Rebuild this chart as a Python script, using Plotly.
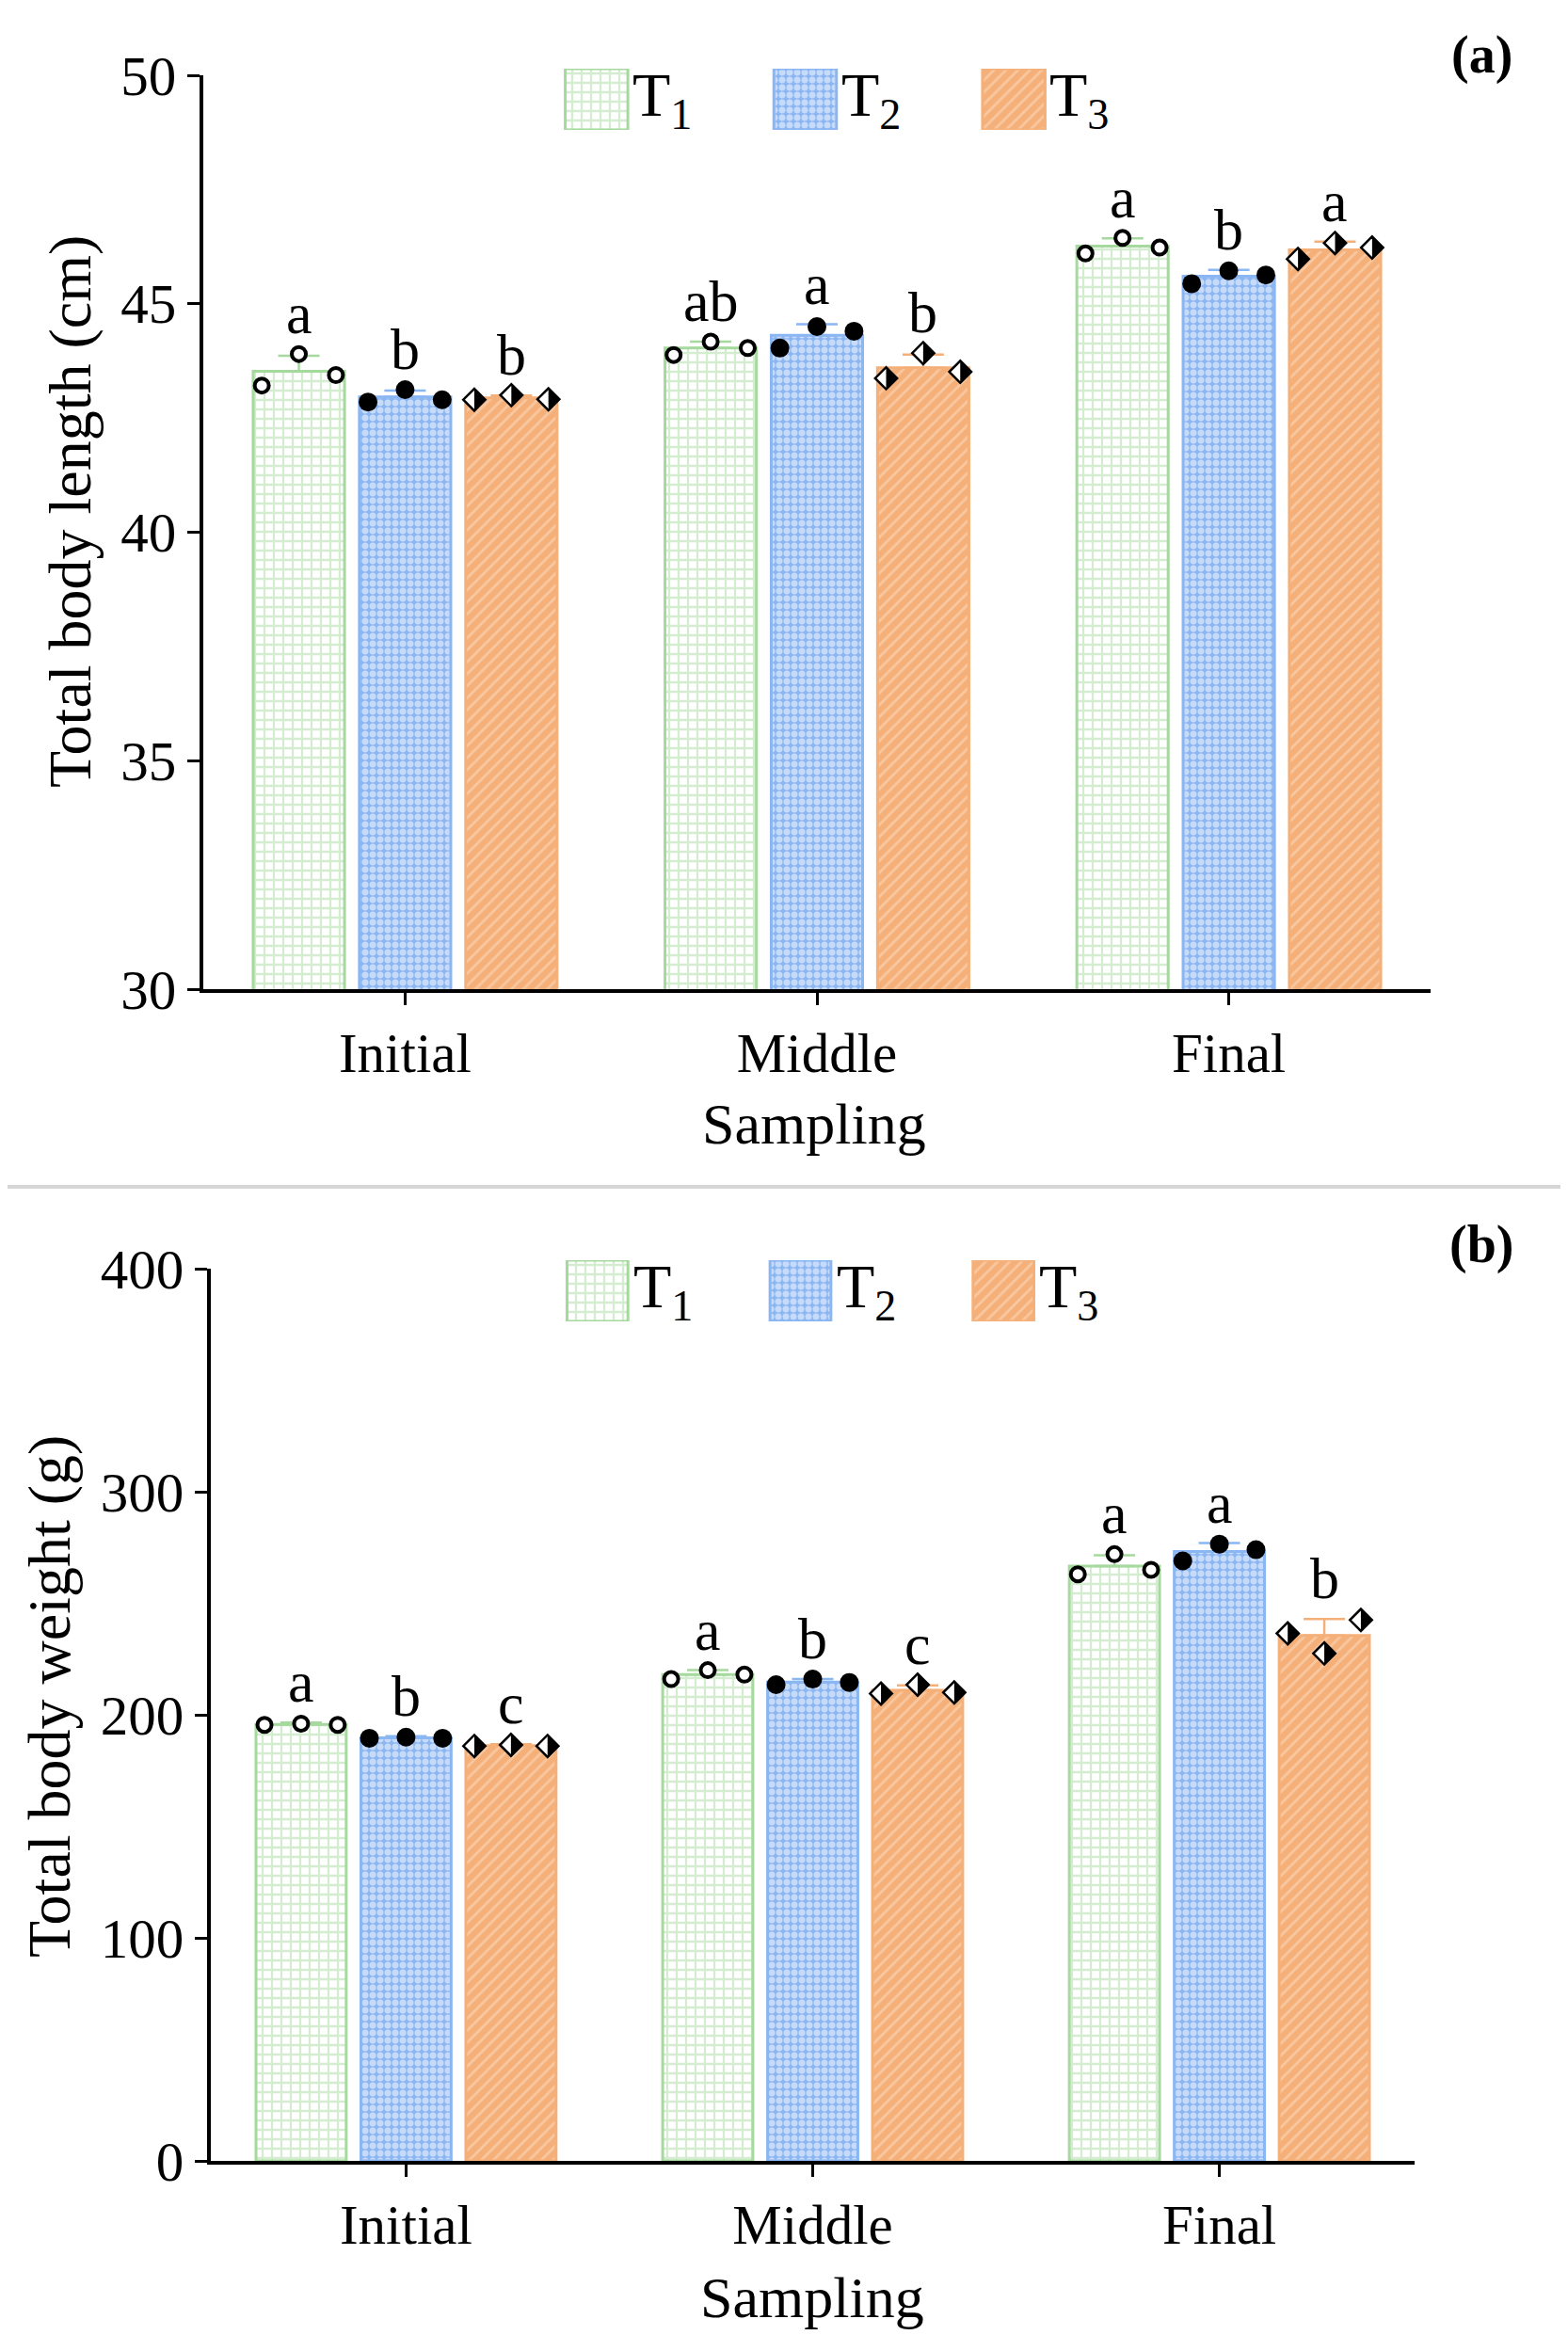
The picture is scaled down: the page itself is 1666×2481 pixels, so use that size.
import plotly.graph_objects as go

W, H = 1666, 2481
FONT = "Liberation Serif"

SAMPLING = ["Initial", "Middle", "Final"]
TREATMENTS = ["T<sub>1</sub>", "T<sub>2</sub>", "T<sub>3</sub>"]

# (a) total body length, cm: means, SD and the three fish per group
LEN_T1 = [43.52, 44.03, 46.26]
LEN_T2 = [42.96, 44.31, 45.60]
LEN_T3 = [42.94, 43.60, 46.18]
LEN_SD_T1 = [0.34, 0.14, 0.17]
LEN_SD_T2 = [0.14, 0.24, 0.14]
LEN_SD_T3 = [0.05, 0.29, 0.18]
LEN_PTS_T1 = [[43.21, 43.90, 43.44], [43.88, 44.17, 44.03], [46.10, 46.44, 46.23]]
LEN_PTS_T2 = [[42.85, 43.12, 42.90], [44.03, 44.50, 44.40], [45.44, 45.72, 45.63]]
LEN_PTS_T3 = [[42.90, 43.00, 42.91], [43.37, 43.92, 43.51], [45.98, 46.33, 46.23]]
LEN_LETTERS_T1 = ["a", "ab", "a"]
LEN_LETTERS_T2 = ["b", "a", "b"]
LEN_LETTERS_T3 = ["b", "b", "a"]

# (b) total body weight, g
WT_T1 = [195.7, 218.0, 266.7]
WT_T2 = [189.7, 214.7, 273.2]
WT_T3 = [186.2, 211.0, 235.5]
WT_SD_T1 = [0.8, 2.0, 4.8]
WT_SD_T2 = [0.7, 1.3, 3.8]
WT_SD_T3 = [0.6, 2.2, 7.4]
WT_PTS_T1 = [[195.5, 196.0, 195.5], [216.0, 220.0, 218.0], [263.0, 272.0, 265.0]]
WT_PTS_T2 = [[189.5, 190.0, 189.5], [213.5, 216.0, 214.5], [269.0, 276.5, 274.0]]
WT_PTS_T3 = [[186.0, 186.5, 186.0], [209.5, 213.5, 210.0], [236.5, 227.5, 242.5]]
WT_LETTERS_T1 = ["a", "a", "a"]
WT_LETTERS_T2 = ["b", "b", "a"]
WT_LETTERS_T3 = ["c", "c", "b"]

LINE_COLORS = ["#a6d99e", "#8ab6f3", "#f5b07a"]
PATTERNS = [
    dict(shape="+", bgcolor="#ffffff", fgcolor="#a9dba2", size=10, solidity=0.4),
    dict(shape=".", bgcolor="#8cb6f2", fgcolor="#ffffff", size=8, solidity=0.6),
    dict(shape="/", bgcolor="#f5b07a", fgcolor="#fde0c6", size=9, solidity=0.3),
]

BARGAP = 0.226
BARGROUPGAP = 0.14
SLOT = (1 - BARGAP) / 3
JITTER = 0.09

PANELS = [
    dict(
        xa="x", ya="y",
        means=[LEN_T1, LEN_T2, LEN_T3],
        sds=[LEN_SD_T1, LEN_SD_T2, LEN_SD_T3],
        pts=[LEN_PTS_T1, LEN_PTS_T2, LEN_PTS_T3],
        letters=[LEN_LETTERS_T1, LEN_LETTERS_T2, LEN_LETTERS_T3],
        px_per_unit=437.6,
    ),
    dict(
        xa="x2", ya="y2",
        means=[WT_T1, WT_T2, WT_T3],
        sds=[WT_SD_T1, WT_SD_T2, WT_SD_T3],
        pts=[WT_PTS_T1, WT_PTS_T2, WT_PTS_T3],
        letters=[WT_LETTERS_T1, WT_LETTERS_T2, WT_LETTERS_T3],
        px_per_unit=432.0,
    ),
]

DIAMOND_SIZE = 18
HALF_SIZE = 18.3
HALF_SHIFT_PX = 0.424 * HALF_SIZE / 2

fig = go.Figure()
annotations = []

for p in PANELS:
    for j in range(3):
        fig.add_trace(go.Bar(
            x=[0, 1, 2], y=p["means"][j],
            xaxis=p["xa"], yaxis=p["ya"],
            offsetgroup=str(j),
            marker=dict(color=LINE_COLORS[j], pattern=PATTERNS[j],
                        line=dict(color=LINE_COLORS[j], width=3)),
            error_y=dict(type="data", symmetric=False, array=p["sds"][j],
                         arrayminus=[0, 0, 0], color=LINE_COLORS[j],
                         thickness=2.5, width=22),
            showlegend=False, hoverinfo="skip",
        ))

    for j in range(3):
        xs, ys = [], []
        for i in range(3):
            for k, v in enumerate(p["pts"][j][i]):
                xs.append(i + (j - 1) * SLOT + (k - 1) * JITTER)
                ys.append(v)
        if j == 0:
            fig.add_trace(go.Scatter(
                x=xs, y=ys, xaxis=p["xa"], yaxis=p["ya"], mode="markers",
                marker=dict(symbol="circle", size=15, color="#ffffff",
                            line=dict(color="#000000", width=4)),
                showlegend=False, hoverinfo="skip",
            ))
        elif j == 1:
            fig.add_trace(go.Scatter(
                x=xs, y=ys, xaxis=p["xa"], yaxis=p["ya"], mode="markers",
                marker=dict(symbol="circle", size=20, color="#000000"),
                showlegend=False, hoverinfo="skip",
            ))
        else:
            fig.add_trace(go.Scatter(
                x=xs, y=ys, xaxis=p["xa"], yaxis=p["ya"], mode="markers",
                marker=dict(symbol="diamond", size=DIAMOND_SIZE, color="#ffffff",
                            line=dict(color="#000000", width=2.5)),
                showlegend=False, hoverinfo="skip",
            ))
            shift = HALF_SHIFT_PX / p["px_per_unit"]
            fig.add_trace(go.Scatter(
                x=[x + shift for x in xs], y=ys,
                xaxis=p["xa"], yaxis=p["ya"], mode="markers",
                marker=dict(symbol="triangle-ne", angle=45, size=HALF_SIZE,
                            color="#000000", line=dict(width=0)),
                showlegend=False, hoverinfo="skip",
            ))

    for j in range(3):
        for i in range(3):
            top = max(p["pts"][j][i] + [p["means"][j][i] + p["sds"][j][i]])
            annotations.append(dict(
                x=i + (j - 1) * SLOT, y=top, xref=p["xa"], yref=p["ya"],
                text=p["letters"][j][i], showarrow=False,
                xanchor="center", yanchor="bottom", yshift=7,
                font=dict(family=FONT, size=62, color="#000000"),
            ))

# legend swatches on their own small axes
for xa, ya in [("x3", "y3"), ("x4", "y4")]:
    for j, name in enumerate(TREATMENTS):
        fig.add_trace(go.Bar(
            x=[j], y=[1], width=0.3, offset=-0.15, xaxis=xa, yaxis=ya,
            marker=dict(color=LINE_COLORS[j], pattern=PATTERNS[j],
                        line=dict(color=LINE_COLORS[j], width=3)),
            showlegend=False, hoverinfo="skip",
        ))
        annotations.append(dict(
            x=j, y=0.5, xref=xa, yref=ya, text=name, showarrow=False,
            xanchor="left", yanchor="middle", xshift=36,
            font=dict(family=FONT, size=66, color="#000000"),
        ))


def paper_text(x, y, text, size, angle=0):
    return dict(x=x / W, y=1 - y / H, xref="paper", yref="paper",
                text=text, textangle=angle, showarrow=False,
                xanchor="center", yanchor="middle",
                font=dict(family=FONT, size=size, color="#000000"))


annotations += [
    paper_text(66, 536, "Total body length (cm)", 64, -90),
    paper_text(44, 1795, "Total body weight (g)", 64, -90),
    paper_text(857, 1186, "Sampling", 62),
    paper_text(855, 2433, "Sampling", 62),
    paper_text(1566, 50, "<b>(a)</b>", 56),
    paper_text(1566, 1314, "<b>(b)</b>", 56),
]

tick_font = dict(family=FONT, size=59, color="#000000")
axis_common = dict(
    showline=True, linecolor="#000000", linewidth=4, showgrid=False,
    zeroline=False, ticks="outside", ticklen=13, tickwidth=3,
    tickcolor="#000000", tickfont=tick_font, fixedrange=True,
    automargin=False,
)
hidden = dict(visible=False, showgrid=False, zeroline=False, fixedrange=True,
              automargin=False)

fig.update_layout(
    width=W, height=H, autosize=False,
    margin=dict(l=0, r=0, t=0, b=0, pad=0, autoexpand=False),
    paper_bgcolor="#ffffff", plot_bgcolor="#ffffff",
    font=dict(family=FONT, color="#000000"),
    showlegend=False,
    barmode="group", bargap=BARGAP, bargroupgap=BARGROUPGAP,
    xaxis=dict(axis_common, domain=[208 / W, 1512 / W], range=[-0.49, 2.49],
               tickvals=[0, 1, 2], ticktext=SAMPLING, anchor="y"),
    yaxis=dict(axis_common, domain=[1 - 1043 / H, 1 - 72 / H], range=[30, 50],
               tickvals=[30, 35, 40, 45, 50], anchor="x"),
    xaxis2=dict(axis_common, domain=[216 / W, 1495 / W], range=[-0.48, 2.48],
                tickvals=[0, 1, 2], ticktext=SAMPLING, anchor="y2"),
    yaxis2=dict(axis_common, domain=[1 - 2288 / H, 1 - 1340 / H], range=[0, 400],
                tickvals=[0, 100, 200, 300, 400], anchor="x2"),
    xaxis3=dict(hidden, domain=[515 / W, 1180 / W], range=[-0.5, 2.5], anchor="y3"),
    yaxis3=dict(hidden, domain=[1 - 130 / H, 1 - 65 / H], range=[0, 1], anchor="x3"),
    xaxis4=dict(hidden, domain=[519 / W, 1166 / W], range=[-0.5, 2.5], anchor="y4"),
    yaxis4=dict(hidden, domain=[1 - 1396 / H, 1 - 1331 / H], range=[0, 1], anchor="x4"),
    annotations=annotations,
    shapes=[dict(type="line", xref="paper", yref="paper", x0=0, x1=1,
                 y0=1 - 1253 / H, y1=1 - 1253 / H,
                 line=dict(color="#d6d6d6", width=4))],
)

fig.write_html("out.html")
